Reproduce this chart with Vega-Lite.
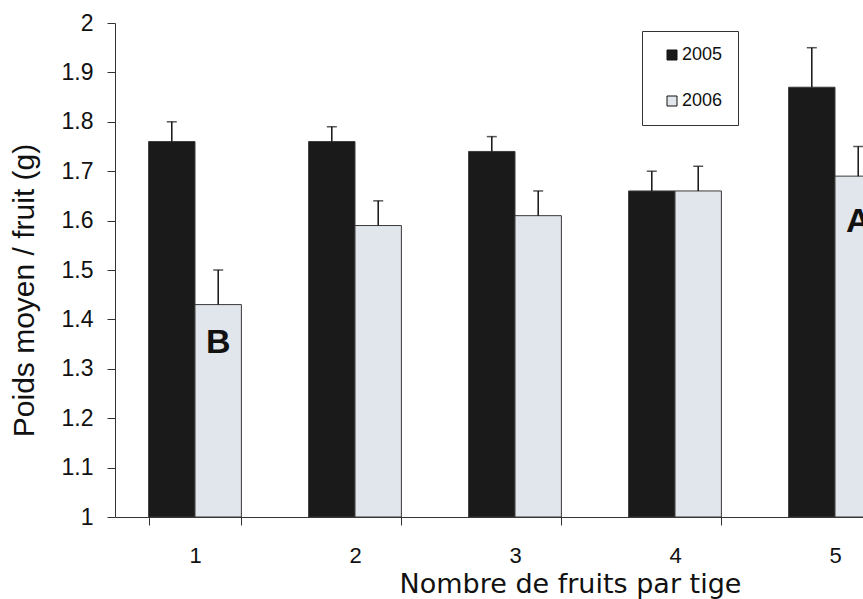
{
  "$schema": "https://vega.github.io/schema/vega-lite/v6.json",
  "width": 748,
  "height": 494,
  "autosize": {"type": "none"},
  "padding": {"left": 115, "top": 23, "right": 0, "bottom": 82},
  "background": "white",
  "config": {"view": {"stroke": null}, "font": "Liberation Sans"},
  "data": {
    "values": [
      {"nombre": "1", "annee": "2005", "poids": 1.76, "erreur_haut": 1.80, "lettre": "", "lettre_y": null},
      {"nombre": "1", "annee": "2006", "poids": 1.43, "erreur_haut": 1.50, "lettre": "B", "lettre_y": 1.332},
      {"nombre": "2", "annee": "2005", "poids": 1.76, "erreur_haut": 1.79, "lettre": "", "lettre_y": null},
      {"nombre": "2", "annee": "2006", "poids": 1.59, "erreur_haut": 1.64, "lettre": "", "lettre_y": null},
      {"nombre": "3", "annee": "2005", "poids": 1.74, "erreur_haut": 1.77, "lettre": "", "lettre_y": null},
      {"nombre": "3", "annee": "2006", "poids": 1.61, "erreur_haut": 1.66, "lettre": "", "lettre_y": null},
      {"nombre": "4", "annee": "2005", "poids": 1.66, "erreur_haut": 1.70, "lettre": "", "lettre_y": null},
      {"nombre": "4", "annee": "2006", "poids": 1.66, "erreur_haut": 1.71, "lettre": "", "lettre_y": null},
      {"nombre": "5", "annee": "2005", "poids": 1.87, "erreur_haut": 1.95, "lettre": "", "lettre_y": null},
      {"nombre": "5", "annee": "2006", "poids": 1.69, "erreur_haut": 1.75, "lettre": "A", "lettre_y": 1.577}
    ]
  },
  "encoding": {
    "x": {
      "field": "nombre",
      "type": "nominal",
      "scale": {"range": [0, 800], "paddingInner": 0.42, "paddingOuter": 0.21},
      "axis": {
        "title": "Nombre de fruits par tige",
        "titleFont": "DejaVu Sans",
        "titleFontSize": 27,
        "titleFontWeight": "normal",
        "titleColor": "#111",
        "titleAlign": "center",
        "titleBaseline": "alphabetic",
        "titleX": 455,
        "titleY": 75,
        "labelAngle": 0,
        "labelFont": "Liberation Sans",
        "labelFontSize": 22,
        "labelColor": "#111",
        "labelPadding": 20,
        "tickBand": "extent",
        "tickSize": 8,
        "tickColor": "#333",
        "domainColor": "#333",
        "grid": false
      }
    },
    "xOffset": {"field": "annee", "type": "nominal", "scale": {"paddingInner": 0, "paddingOuter": 0}}
  },
  "layer": [
    {
      "mark": {"type": "bar", "stroke": "#3a3a3a", "strokeWidth": 1},
      "encoding": {
        "y": {
          "field": "poids",
          "type": "quantitative",
          "scale": {"domain": [1, 2], "zero": false, "nice": false},
          "axis": {
            "title": "Poids  moyen / fruit (g)",
            "titleFont": "Liberation Sans",
            "titleFontSize": 30,
            "titleFontWeight": "normal",
            "titleColor": "#111",
            "titleAngle": -90,
            "titleAlign": "center",
            "titleBaseline": "alphabetic",
            "titleX": -82,
            "titleY": 267,
            "values": [1, 1.1, 1.2, 1.3, 1.4, 1.5, 1.6, 1.7, 1.8, 1.9, 2],
            "format": "~f",
            "labelFont": "Liberation Sans",
            "labelFontSize": 23,
            "labelColor": "#111",
            "labelPadding": 14,
            "tickSize": 8,
            "tickColor": "#333",
            "domainColor": "#333",
            "grid": false
          }
        },
        "y2": {"datum": 1},
        "fill": {
          "field": "annee",
          "type": "nominal",
          "scale": {"domain": ["2005", "2006"], "range": ["#1a1a1a", "#e1e5ec"]},
          "legend": {
            "orient": "none",
            "legendX": 527,
            "legendY": 8,
            "title": null,
            "strokeColor": "#333",
            "fillColor": "white",
            "padding": 15,
            "rowPadding": 28,
            "symbolType": "square",
            "symbolSize": 100,
            "symbolStrokeColor": "#111",
            "symbolStrokeWidth": 1,
            "symbolOffset": 6,
            "labelOffset": 1,
            "labelFontSize": 18,
            "labelColor": "#111",
            "labelExpr": "datum.label + '  '"
          }
        }
      }
    },
    {
      "mark": {"type": "rule", "color": "#111", "strokeWidth": 1.5},
      "encoding": {
        "y": {"field": "poids", "type": "quantitative"},
        "y2": {"field": "erreur_haut"}
      }
    },
    {
      "mark": {"type": "tick", "color": "#111", "size": 10, "thickness": 1.5},
      "encoding": {
        "y": {"field": "erreur_haut", "type": "quantitative"}
      }
    },
    {
      "transform": [{"filter": "datum.lettre != ''"}],
      "mark": {"type": "text", "fontSize": 34, "fontWeight": "bold", "font": "Liberation Sans", "color": "#111", "align": "center", "baseline": "alphabetic"},
      "encoding": {
        "y": {"field": "lettre_y", "type": "quantitative"},
        "text": {"field": "lettre"}
      }
    }
  ]
}
